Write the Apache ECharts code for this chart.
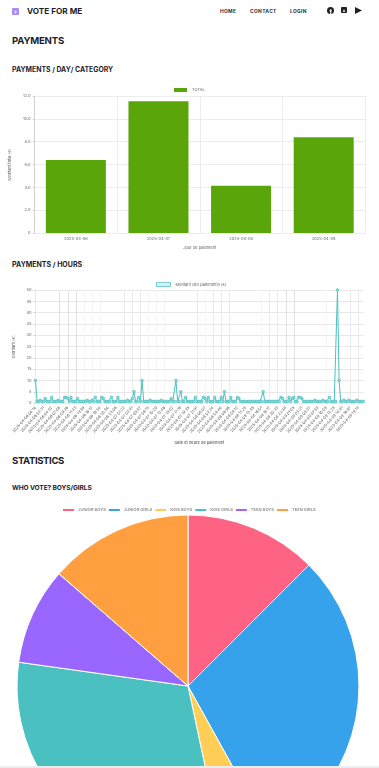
<!DOCTYPE html>
<html><head><meta charset="utf-8">
<script src="https://cdn.jsdelivr.net/npm/echarts@6/dist/echarts.min.js"></script>
<style>
html,body{margin:0;padding:0;width:379px;height:768px;overflow:hidden;background:#fff;font-family:Inter,"Open Sans",sans-serif;color:#1d1d2b}
.t{position:absolute;white-space:nowrap;font-weight:700}
.c{position:absolute;left:0;width:379px}
svg{position:absolute}
</style></head><body>
<svg style="left:12px;top:8px" width="7" height="7" viewBox="0 0 7 7"><rect width="7" height="7" rx="1" fill="#a78bfa"/><rect x="2.5" y="2.5" width="2" height="3" fill="#e4dcff"/></svg>
<div class="t" style="left:27px;top:6px;font-size:8.2px">VOTE FOR ME</div>
<div class="t" style="left:220px;top:8px;font-size:4.9px;letter-spacing:.35px;color:#333">HOME</div>
<div class="t" style="left:250px;top:8px;font-size:4.9px;letter-spacing:.35px;color:#333">CONTACT</div>
<div class="t" style="left:290px;top:8px;font-size:4.9px;letter-spacing:.35px;color:#333">LOGIN</div>
<svg style="left:327px;top:7px" width="7" height="7" viewBox="0 0 7 7"><circle cx="3.5" cy="3.5" r="3.5" fill="#222"/><rect x="3.2" y="2.2" width="1.1" height="4.8" fill="#fff"/><rect x="2.4" y="3.4" width="2.6" height=".8" fill="#fff"/></svg>
<svg style="left:341px;top:7px" width="6" height="6" viewBox="0 0 6 6"><rect width="6" height="6" rx=".7" fill="#222"/><path d="M1.5 5 L3 2 L4.5 5Z" fill="#ccc"/></svg>
<svg style="left:355px;top:7px" width="7" height="7" viewBox="0 0 7 7"><path d="M0 0 L7 3.5 L0 7Z" fill="#222"/></svg>
<div class="t" style="left:12px;top:35px;font-size:9.6px;letter-spacing:-.2px">PAYMENTS</div>
<div class="t" style="left:12px;top:65px;font-size:6.9px">PAYMENTS / DAY/ CATEGORY</div>
<div class="t" style="left:12px;top:260px;font-size:7px">PAYMENTS / HOURS</div>
<div class="t" style="left:12px;top:455px;font-size:9.6px;letter-spacing:-.4px">STATISTICS</div>
<div class="t" style="left:12px;top:484px;font-size:6.6px;letter-spacing:-.1px">WHO VOTE? BOYS/GIRLS</div>
<div id="c1" class="c" style="top:82px;height:173px"></div>
<div id="c2" class="c" style="top:275px;height:175px"></div>
<div id="c3" class="c" style="top:500px;height:268px"></div>
<div style="position:absolute;left:0;top:766px;width:379px;height:2px;background:#ececec"></div>
<script>
// Daily payments
const dayLabels = ['2025-04-06','2025-04-07','2025-04-08','2025-04-09'];
const dayValues = [6.4, 11.55, 4.15, 8.4];
const dayTicks = ['0','2.0','4.0','6.0','8.0','10.0','12.0'];
const daySeriesName = 'TOTAL';

// Hourly payments (one tick label every five points)
const hourTicks = ['2025-04-06 00:14','2025-04-06 02:31','2025-04-06 04:52','2025-04-06 07:08','2025-04-06 09:26','2025-04-06 11:43','2025-04-06 13:59','2025-04-06 16:17','2025-04-06 18:34','2025-04-06 20:50','2025-04-06 23:06',
'2025-04-07 01:22','2025-04-07 03:41','2025-04-07 05:57','2025-04-07 08:13','2025-04-07 10:29','2025-04-07 12:46','2025-04-07 15:02','2025-04-07 17:18','2025-04-07 19:35','2025-04-07 21:51',
'2025-04-08 00:07','2025-04-08 02:24','2025-04-08 04:40','2025-04-08 06:56','2025-04-08 09:12','2025-04-08 11:29','2025-04-08 13:45','2025-04-08 16:01','2025-04-08 18:17','2025-04-08 20:33',
'2025-04-08 22:49','2025-04-09 01:05','2025-04-09 03:21','2025-04-09 05:37','2025-04-09 07:53','2025-04-09 10:09','2025-04-09 12:25','2025-04-09 14:41','2025-04-09 16:57','2025-04-09 19:13'];
const hourValues = [
10,.7,.7,1.2,.7, .7,2,.7,.7,.7, 2.5,.7,.7,.7,1.2, .7,.7,.7,2.5,2.5,
2,.7,2.5,.7,.7, .7,2,.7,.7,.7, .7,.7,1.2,.7,.7, 1.2,.7,2.5,.7,.7,
.7,2.5,2,.7,.7, .7,.7,2.5,.7,.7, .7,2.5,.7,.7,.7, .7,.7,1.2,.7,.7,
2,5,.7,.7,2.5, .7,10,.7,.7,.7, .7,1.2,.7,.7,.7, .7,.7,.7,1.2,.7,
.7,.7,.7,.7,2, .7,.7,10,.7,.7, 5,.7,.7,2.5,.7, .7,.7,.7,.7,2.5,
.7,.7,.7,.7,2.5, 2,.7,2.5,.7,.7, .7,2.5,.7,.7,.7, 2.5,.7,5,.7,.7,
.7,2.5,.7,.7,.7, 2.5,2,.7,.7,.7, .7,.7,.7,.7,.7, .7,.7,.7,.7,.7,
.7,5,.7,.7,.7, .7,.7,.7,.7,.7, .7,.7,2.5,2,.7, .7,.7,2.5,.7,2,
2.5,.7,.7,2.5,2.5, 2,.7,.7,.7,.7, .7,.7,.7,1.2,.7, .7,.7,.7,1.2,.7,
.7,.7,2.5,.7, .7,.7,.7,50, 10,.7,.7,1.2,.7, .7,1.2,.7,.7,.7,
.7,1.2,.7,.7,.7,.7];
const hourYTicks = [0,5,10,15,20,25,30,35,40,45,50];
const hourSeriesName = 'Montant des paiements (€)';

// Who votes
const groupNames = ['JUNIOR BOYS','JUNIOR GIRLS','KIDS BOYS','KIDS GIRLS','TEEN BOYS','TEEN GIRLS'];
const groupValues = [45,106,17,110,33,49];
const groupColors = ['#ff6384','#36a2eb','#ffce56','#4bc0c0','#9966ff','#ff9f40'];

const grey='#666', fine='#ececec', axisC='#d0d0d0';
const font='Inter,"Open Sans",sans-serif';
const lab={fontSize:4,color:grey,fontFamily:font};
const hourCats=hourValues.map((v,i)=>i%5===0?hourTicks[i/5]:String(i));
const D='#e2e2e2',M='#ebebeb',F='#f5f5f5',N='rgba(0,0,0,0)';
const hourGrid=[N,N,N,D,D,D,F,F,F,N,N,M,M,M,F,F,F,N,N,N,M,F,M,M,M,N,N,N,F,M,M,D,D,N,N,N,F,N,N,M,M];

echarts.init(document.getElementById('c1')).setOption({
 animation:false,
 legend:{left:174,top:6,padding:0,itemWidth:13,itemHeight:4,itemGap:2,textStyle:lab,data:[daySeriesName],icon:'rect'},
 grid:{left:33,right:14,top:14,height:138},
 xAxis:{type:'category',data:dayLabels,name:'Jour de paiement',nameLocation:'middle',nameGap:9,nameTextStyle:lab,
  axisLabel:{...lab,margin:4},axisLine:{lineStyle:{color:fine}},axisTick:{length:2,lineStyle:{color:axisC}},splitLine:{show:true,lineStyle:{color:fine}}},
 yAxis:{type:'value',min:0,max:12,interval:2,name:'Montant total (€)',nameLocation:'middle',nameGap:11,nameTextStyle:lab,
  axisLabel:{...lab,margin:4,formatter:v=>dayTicks[v/2]},axisLine:{show:true,lineStyle:{color:axisC}},axisTick:{show:true,length:2,lineStyle:{color:axisC}},splitLine:{lineStyle:{color:fine}}},
 series:[{name:daySeriesName,type:'bar',data:dayValues,barWidth:60,itemStyle:{color:'#5aa50a'}}]
});

echarts.init(document.getElementById('c2')).setOption({
 animation:false,
 legend:{left:156,top:7,padding:0,itemWidth:14,itemHeight:4,itemGap:2,textStyle:lab,icon:'rect',
  data:[{name:hourSeriesName,itemStyle:{color:'#d8f2f2',borderColor:'#4bc0c0',borderWidth:.8}}]},
 grid:{left:35.5,right:15.7,top:15,height:118},
 xAxis:{type:'category',data:hourCats,boundaryGap:false,name:'Date et heure de paiement',nameLocation:'middle',nameGap:33,nameTextStyle:{...lab,color:'#444'},
  axisLabel:{...lab,color:'#555',fontSize:3.8,rotate:48,interval:4,margin:4},axisLine:{lineStyle:{color:fine}},axisTick:{show:false},
  splitLine:{show:true,interval:4,lineStyle:{color:hourGrid}}},
 yAxis:{type:'value',min:0,max:50,interval:5,name:'Montant (€)',nameLocation:'middle',nameGap:9,nameTextStyle:lab,
  axisLabel:{...lab,margin:4,formatter:v=>hourYTicks[v/5]},axisLine:{show:true,lineStyle:{color:fine}},axisTick:{show:true,length:2,lineStyle:{color:axisC}},splitLine:{lineStyle:{color:'#e8e8e8'}}},
 series:[{name:hourSeriesName,type:'line',data:hourValues,showSymbol:true,showAllSymbol:true,symbol:'circle',symbolSize:2.6,
  lineStyle:{color:'#4bc0c0',width:1},itemStyle:{color:'#9adcdc',borderColor:'#4bc0c0',borderWidth:.8}}]
});

echarts.init(document.getElementById('c3')).setOption({
 animation:false,
 legend:{top:7,padding:0,left:61,itemWidth:13,itemHeight:4,itemGap:1,textStyle:{...lab,fontSize:4.1,fontWeight:'bold',color:'#999',padding:[0,0,0,-2]},icon:'rect',data:groupNames},
 series:[{type:'pie',center:[188,186],radius:[0,171],startAngle:90,clockwise:true,label:{show:false},labelLine:{show:false},
  itemStyle:{borderColor:'#fff',borderWidth:1},silent:true,
  data:groupNames.map((n,i)=>({name:n,value:groupValues[i],itemStyle:{color:groupColors[i]}}))}]
});
</script>
</body></html>
